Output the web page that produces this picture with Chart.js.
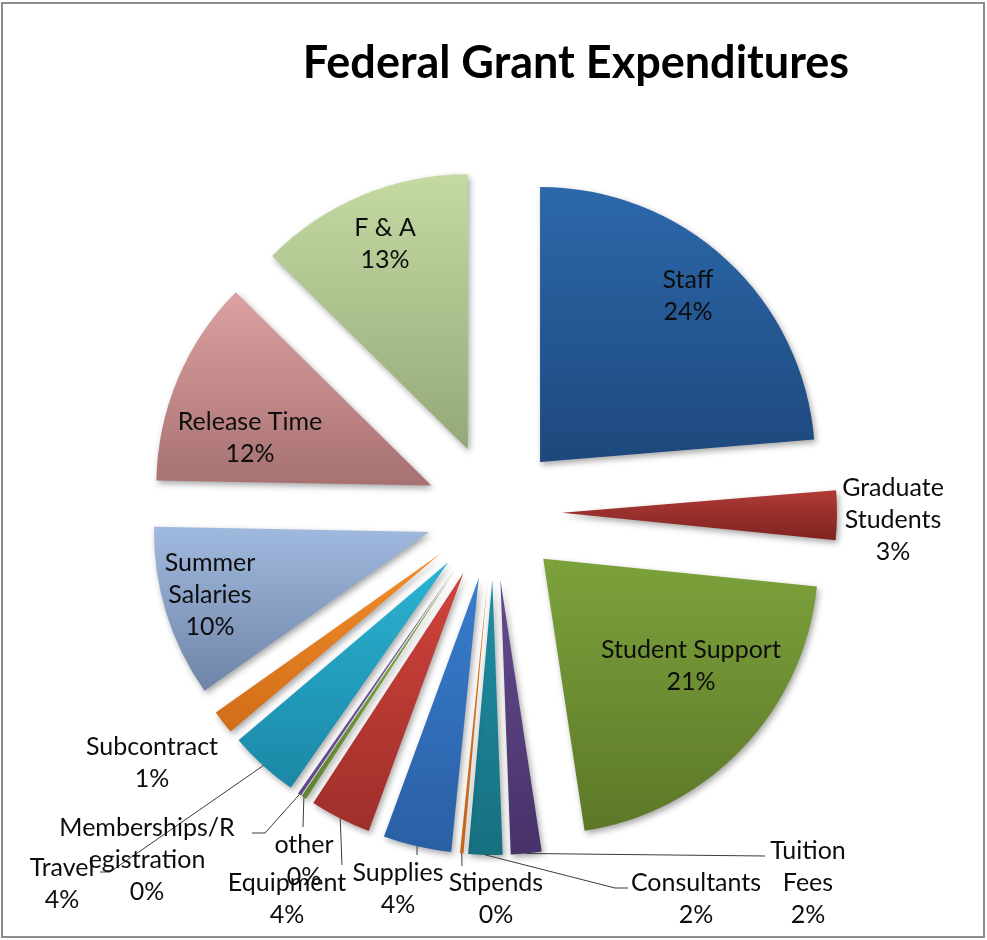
<!DOCTYPE html>
<html>
<head>
<meta charset="utf-8">
<title>Federal Grant Expenditures</title>
<script src="https://cdn.jsdelivr.net/npm/chart.js@4.4.0/dist/chart.umd.min.js"></script>
<style>
    html, body { margin: 0; padding: 0; background: #ffffff; }
    #wrap { position: relative; width: 987px; height: 940px; }
    #chart { display: block; }
    #frame {
        position: absolute; left: 1px; top: 2px; width: 984px; height: 936px;
        border: 2px solid #8c8c8c; box-sizing: border-box; pointer-events: none;
    }
</style>
</head>
<body>
<div id="wrap">
    <canvas id="chart" width="987" height="940"></canvas>
    <div id="frame"></div>
</div>
<script>
// Slice data, clockwise from 12 o'clock (percent of total)
const categories = ['Staff', 'Graduate Students', 'Student Support', 'Tuition Fees', 'Consultants',
    'Stipends', 'Supplies', 'Equipment', 'other', 'Memberships/Registration', 'Travel',
    'Subcontract', 'Summer Salaries', 'Release Time', 'F & A'];
const shares = [23.7, 2.9, 21.0, 1.8, 2.0, 0.2, 4.0, 3.6, 0.3, 0.2, 4.1, 1.4, 10.1, 12.1, 12.6];

// how the category names wrap on the chart
const labelLines = [['Staff'], ['Graduate', 'Students'], ['Student Support'], ['Tuition', 'Fees'],
    ['Consultants'], ['Stipends'], ['Supplies'], ['Equipment'], ['other'],
    ['Memberships/R', 'egistration'], ['Travel'], ['Subcontract'], ['Summer', 'Salaries'],
    ['Release Time'], ['F & A']];

// gradient colours (top -> bottom of each slice)
const topColors = ['#2c68ab', '#b03a35', '#7ca23b', '#654b8c', '#208fa6', '#dd7a20', '#387dcd',
    '#d1433c', '#8cb64b', '#7d66ab', '#2bb3d3', '#f38d2a', '#a0b9de', '#dca1a0', '#c5d9a3'];
const bottomColors = ['#1d487c', '#7f2420', '#5c7828', '#47326a', '#16707f', '#c0651a', '#2a5fa4',
    '#9f2f2a', '#6d9638', '#5e4a8a', '#1b87a6', '#d06d18', '#6f85a8', '#a77171', '#95a978'];

// label anchors (centre of first text line) and leader-line elbows
const labelPos = [[688, 280], [893, 488], [691, 650], [808, 851], [696, 883], [496, 883],
    [398, 873], [287, 883], [304, 845], [147, 828], [62, 868], [152, 747], [210, 563],
    [250, 422], [385, 228]];
const leaders = [null, null, null, [[765, 856]], [[615, 888], [628, 888]], [[462, 866]],
    [[417, 855]], [[342, 865]], [[303, 827]], [[265, 833], [252, 833]], [[110, 872], [100, 872]],
    null, null, null, null];

const explode = 68;
const labelFont = '25px Lato';
const lineGap = 32;

function sliceGradient(ctx, arc, i) {
    const a0 = arc.startAngle, a1 = arc.endAngle, r = arc.outerRadius;
    const ys = [0, Math.sin(a0) * r, Math.sin(a1) * r];
    [-Math.PI / 2, Math.PI / 2, 3 * Math.PI / 2].forEach(k => {
        if (k > a0 && k < a1) ys.push(Math.sin(k) * r);
    });
    const g = ctx.createLinearGradient(0, arc.y + Math.min(...ys), 0, arc.y + Math.max(...ys));
    g.addColorStop(0, topColors[i]);
    g.addColorStop(1, bottomColors[i]);
    return g;
}

const explodedPie = {
    id: 'explodedPie',
    beforeDatasetDraw(chart, args) {
        const ctx = chart.ctx;
        args.meta.data.forEach((arc, i) => {
            const mid = (arc.startAngle + arc.endAngle) / 2;
            const fill = sliceGradient(ctx, arc, i);
            ctx.save();
            ctx.translate(Math.cos(mid) * explode, Math.sin(mid) * explode);
            ctx.shadowColor = 'rgba(0,0,0,0.35)';
            ctx.shadowBlur = 6;
            ctx.shadowOffsetX = 2;
            ctx.shadowOffsetY = 3;
            if (!Object.isFrozen(arc.options)) {
                arc.options.backgroundColor = fill;
                arc.draw(ctx);
            } else {
                ctx.beginPath();
                ctx.moveTo(arc.x, arc.y);
                ctx.arc(arc.x, arc.y, arc.outerRadius, arc.startAngle, arc.endAngle);
                ctx.closePath();
                ctx.fillStyle = fill;
                ctx.fill();
            }
            ctx.restore();
        });
        return false;
    },
    afterDatasetsDraw(chart) {
        const ctx = chart.ctx;
        const arcs = chart.getDatasetMeta(0).data;
        const total = shares.reduce((a, b) => a + b, 0);

        // leader lines from the outer edge of the slice
        ctx.save();
        ctx.strokeStyle = '#3a3a3a';
        ctx.lineWidth = 1;
        arcs.forEach((arc, i) => {
            if (!leaders[i]) return;
            const mid = (arc.startAngle + arc.endAngle) / 2;
            const sx = arc.x + Math.cos(mid) * (explode + arc.outerRadius);
            const sy = arc.y + Math.sin(mid) * (explode + arc.outerRadius);
            ctx.beginPath();
            ctx.moveTo(sx, sy);
            leaders[i].forEach(p => ctx.lineTo(p[0], p[1]));
            ctx.stroke();
        });
        ctx.restore();

        // category + percent labels
        ctx.save();
        ctx.fillStyle = '#0d0d0d';
        ctx.font = labelFont;
        ctx.textAlign = 'center';
        ctx.textBaseline = 'middle';
        categories.forEach((c, i) => {
            const lines = labelLines[i].concat([Math.round(shares[i] / total * 100) + '%']);
            lines.forEach((t, k) => ctx.fillText(t, labelPos[i][0], labelPos[i][1] + k * lineGap));
        });
        ctx.restore();

        // title
        ctx.save();
        ctx.fillStyle = '#000000';
        ctx.font = 'bold 45px Lato';
        ctx.textAlign = 'center';
        ctx.textBaseline = 'alphabetic';
        ctx.fillText('Federal Grant Expenditures', 576, 78);
        ctx.restore();
    }
};

new Chart(document.getElementById('chart'), {
    type: 'pie',
    data: {
        labels: categories,
        datasets: [{
            data: shares,
            backgroundColor: (c) => topColors[c.dataIndex],
            borderWidth: 0
        }]
    },
    options: {
        responsive: false,
        animation: false,
        events: [],
        radius: 275,
        layout: { padding: { top: 84, left: 1, right: 0, bottom: 0 } },
        plugins: {
            legend: { display: false },
            title: { display: false },
            tooltip: { enabled: false }
        }
    },
    plugins: [explodedPie]
});
</script>
</body>
</html>
